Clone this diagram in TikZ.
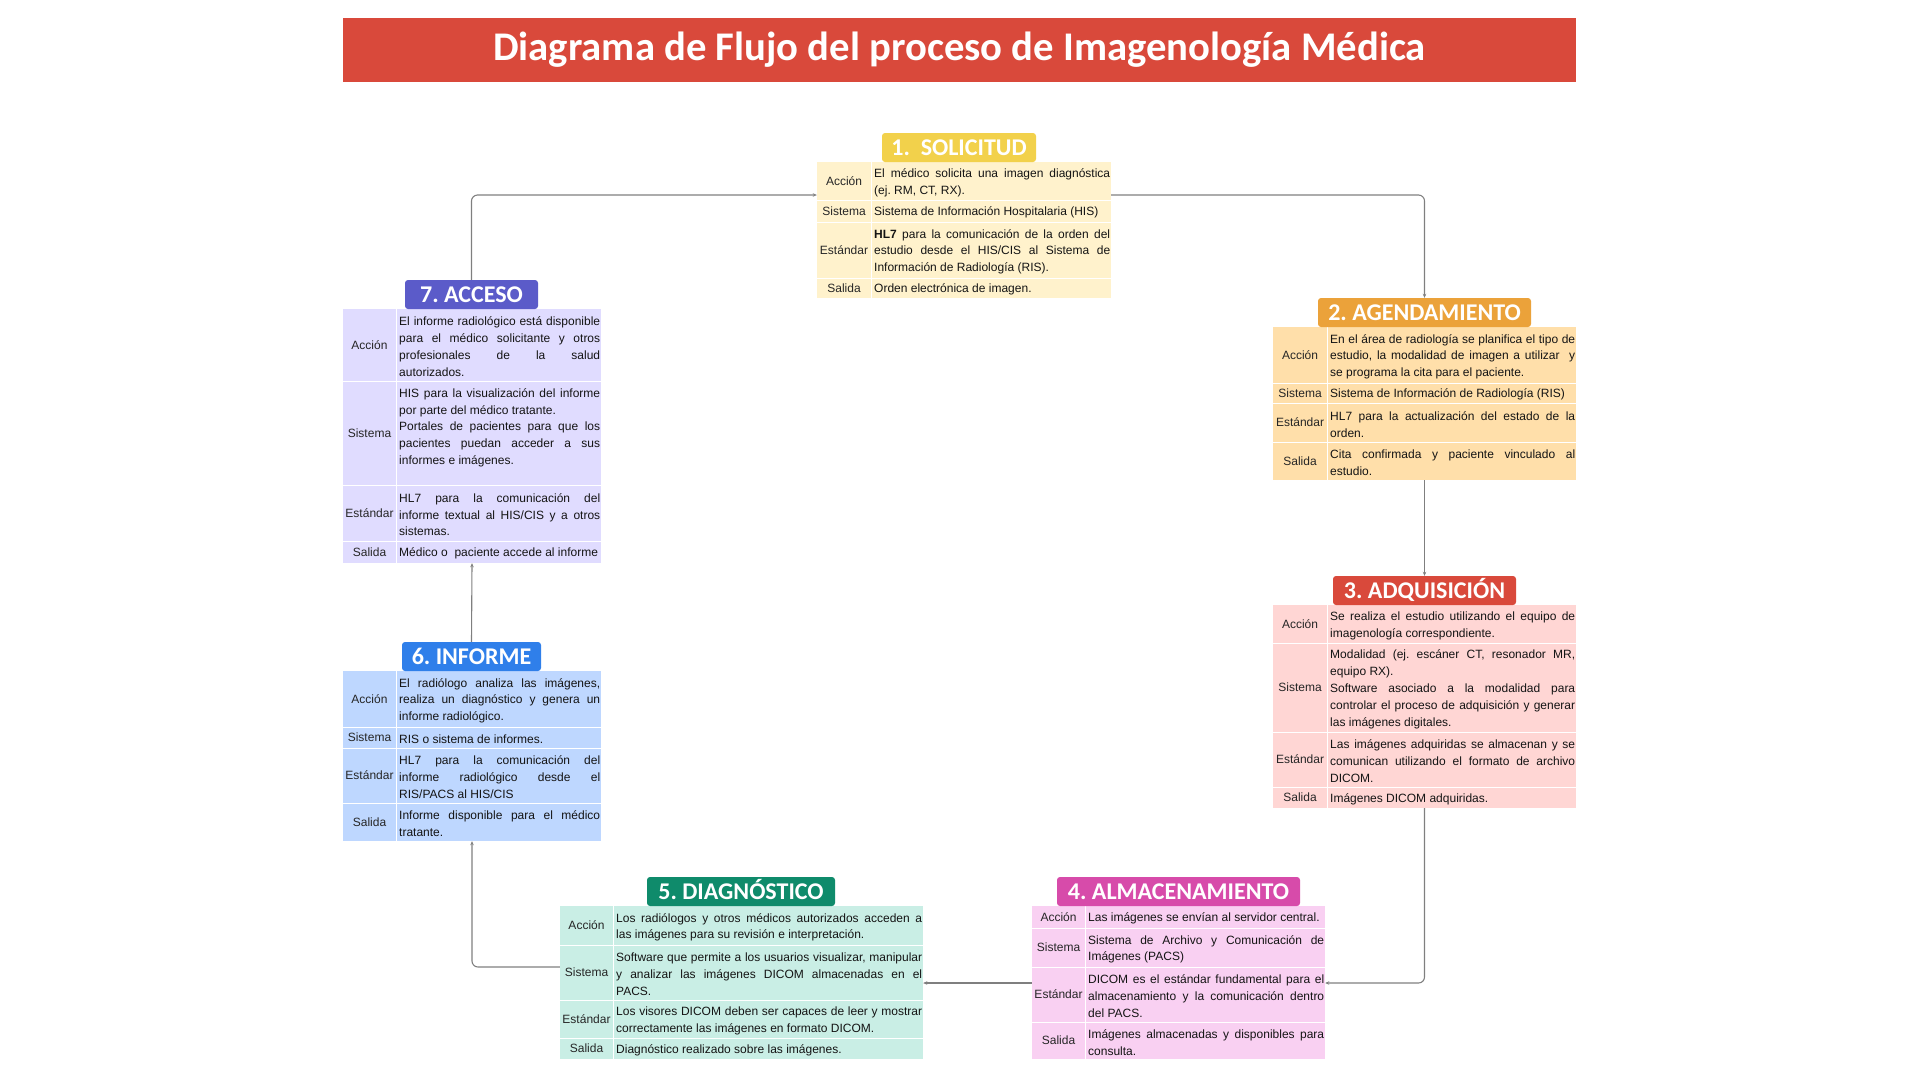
\documentclass[tikz,border=0pt]{standalone}
\usepackage{fontspec}
\setmainfont{Liberation Sans}
\newfontfamily\headfont{Carlito}
\usetikzlibrary{arrows.meta,backgrounds}
\frenchspacing
\definecolor{titlered}{HTML}{D9493B}
\definecolor{linegray}{HTML}{7F7F7F}
\definecolor{c1t}{HTML}{F2D14B}\definecolor{c1b}{HTML}{FFF2CC}
\definecolor{c2t}{HTML}{EBA23A}\definecolor{c2b}{HTML}{FFDFAA}
\definecolor{c3t}{HTML}{D9493B}\definecolor{c3b}{HTML}{FFD6D4}
\definecolor{c4t}{HTML}{D74BAA}\definecolor{c4b}{HTML}{F9D0F2}
\definecolor{c5t}{HTML}{0F8B6B}\definecolor{c5b}{HTML}{C9EEE5}
\definecolor{c6t}{HTML}{2F7FEA}\definecolor{c6b}{HTML}{BED7FF}
\definecolor{c7t}{HTML}{5B5BC9}\definecolor{c7b}{HTML}{E0DCFF}
\tikzset{
  conn/.style={draw=linegray, line width=1.1pt, rounded corners=6pt, -{Stealth[length=4pt,width=3.5pt]}},
  ttl/.style={rounded corners=3pt, text=white, font=\headfont\bfseries\fontsize{24}{28}\selectfont,
    inner sep=0pt, minimum height=29pt, text height=15.5pt, text depth=0pt},
  tbl/.style={inner sep=0pt, draw=none},
  lbl/.style={font=\fontsize{12}{16.8}\selectfont, inner sep=0pt, text=black!85, text height=9pt, text depth=2.5pt},
  cnt/.style={font=\fontsize{12}{16.8}\selectfont, inner sep=0pt, align=justify, anchor=west, text=black!92,
    execute at begin node={\frenchspacing\hyphenpenalty=10000\exhyphenpenalty=10000\tolerance=10000\emergencystretch=1em\parindent=0pt}},
  sep/.style={white, line width=1pt},
}
\newcommand{\mktable}[7]{%
  \pgfmathsetmacro\mytbw{#5-#3}\pgfmathsetmacro\mytbh{#7-#6}%
  \node[tbl, fill=#2, minimum width=\mytbw pt, minimum height=\mytbh pt] (#1) at ({(#3+#5)/2},{(#6+#7)/2}) {};
  \draw[sep] (#4,#6) -- (#4,#7);
}
\newcommand{\mkrow}[8]{%
  \node[lbl] (#1l) at ({(#2+#3)/2},{(#5+#6)/2+0.8}) {#7};
  \pgfmathsetmacro\mytw{#4-#3-4}%
  \node[cnt, text width=\mytw pt] (#1c) at ({#3+3},{(#5+#6)/2+1.8}) {#8};
}
\begin{document}
\begin{tikzpicture}[x=1pt, y=-1pt]
\useasboundingbox (0,0) rectangle (1920,1080);

% main title
\node[fill=titlered, minimum width=1233pt, minimum height=64pt, inner sep=0pt, text=white,
  font=\headfont\bfseries\fontsize{40.7}{48}\selectfont, text height=26.2pt, text depth=5pt]
  (maintitle) at (959.5,50) {Diagrama de Flujo del proceso de Imagenología Médica};

% ---------- 1. SOLICITUD
\mktable{tab1}{c1b}{817}{871}{1111}{162}{298}
\foreach \yy in {200,222,278} {\draw[sep] (817,\yy) -- (1111,\yy);}
\mkrow{r1a}{817}{871}{1111}{162}{200}{Acción}{El médico solicita una imagen diagnóstica\linebreak (ej. RM, CT, RX).}
\mkrow{r1b}{817}{871}{1111}{200}{222}{Sistema}{Sistema de Información Hospitalaria (HIS)}
\mkrow{r1c}{817}{871}{1111}{222}{278}{Estándar}{\textbf{HL7} para la comunicación de la orden del\linebreak estudio desde el HIS/CIS al Sistema de\linebreak Información de Radiología (RIS).}
\mkrow{r1d}{817}{871}{1111}{278}{298}{Salida}{Orden electrónica de imagen.}
\node[ttl, fill=c1t, minimum width=154pt] (t1) at (959,147.5) {1.\ \ SOLICITUD};

% ---------- 2. AGENDAMIENTO
\mktable{tab2}{c2b}{1273}{1327}{1576}{327}{480}
\foreach \yy in {383,403,442} {\draw[sep] (1273,\yy) -- (1576,\yy);}
\mkrow{r2a}{1273}{1327}{1576}{327}{383}{Acción}{En el área de radiología se planifica el tipo de\linebreak estudio, la modalidad de imagen a utilizar~ y\linebreak se programa la cita para el paciente.}
\mkrow{r2b}{1273}{1327}{1576}{383}{403}{Sistema}{Sistema de Información de Radiología (RIS)}
\mkrow{r2c}{1273}{1327}{1576}{403}{442}{Estándar}{HL7 para la actualización del estado de la\linebreak orden.}
\mkrow{r2d}{1273}{1327}{1576}{442}{480}{Salida}{Cita confirmada y paciente vinculado al\linebreak estudio.}
\node[ttl, fill=c2t, minimum width=213pt] (t2) at (1424.5,312.5) {2. AGENDAMIENTO};

% ---------- 3. ADQUISICION
\mktable{tab3}{c3b}{1273}{1327}{1576}{605}{808}
\foreach \yy in {643,732,787} {\draw[sep] (1273,\yy) -- (1576,\yy);}
\mkrow{r3a}{1273}{1327}{1576}{605}{643}{Acción}{Se realiza el estudio utilizando el equipo de\linebreak imagenología correspondiente.}
\mkrow{r3b}{1273}{1327}{1576}{643}{732}{Sistema}{Modalidad (ej. escáner CT, resonador MR,\linebreak equipo RX).\par Software asociado a la modalidad para\linebreak controlar el proceso de adquisición y generar\linebreak las imágenes digitales.}
\mkrow{r3c}{1273}{1327}{1576}{732}{787}{Estándar}{Las imágenes adquiridas se almacenan y se\linebreak comunican utilizando el formato de archivo\linebreak DICOM.}
\mkrow{r3d}{1273}{1327}{1576}{787}{808}{Salida}{Imágenes DICOM adquiridas.}
\node[ttl, fill=c3t, minimum width=183pt] (t3) at (1424.5,590.5) {3. ADQUISICIÓN};

% ---------- 4. ALMACENAMIENTO
\mktable{tab4}{c4b}{1032}{1085}{1325}{906}{1059}
\foreach \yy in {928,967,1022} {\draw[sep] (1032,\yy) -- (1325,\yy);}
\mkrow{r4a}{1032}{1085}{1325}{906}{928}{Acción}{Las imágenes se envían al servidor central.}
\mkrow{r4b}{1032}{1085}{1325}{928}{967}{Sistema}{Sistema de Archivo y Comunicación de\linebreak Imágenes (PACS)}
\mkrow{r4c}{1032}{1085}{1325}{967}{1022}{Estándar}{DICOM es el estándar fundamental para el\linebreak almacenamiento y la comunicación dentro\linebreak del PACS.}
\mkrow{r4d}{1032}{1085}{1325}{1022}{1059}{Salida}{Imágenes almacenadas y disponibles para\linebreak consulta.}
\node[ttl, fill=c4t, minimum width=243pt] (t4) at (1178.5,891.5) {4. ALMACENAMIENTO};

% ---------- 5. DIAGNOSTICO
\mktable{tab5}{c5b}{560}{613}{923}{906}{1059}
\foreach \yy in {945,1000,1038} {\draw[sep] (560,\yy) -- (923,\yy);}
\mkrow{r5a}{560}{613}{923}{906}{945}{Acción}{Los radiólogos y otros médicos autorizados acceden a\linebreak las imágenes para su revisión e interpretación.}
\mkrow{r5b}{560}{613}{923}{945}{1000}{Sistema}{Software que permite a los usuarios visualizar, manipular\linebreak y analizar las imágenes DICOM almacenadas en el\linebreak PACS.}
\mkrow{r5c}{560}{613}{923}{1000}{1038}{Estándar}{Los visores DICOM deben ser capaces de leer y mostrar\linebreak correctamente las imágenes en formato DICOM.}
\mkrow{r5d}{560}{613}{923}{1038}{1059}{Salida}{Diagnóstico realizado sobre las imágenes.}
\node[ttl, fill=c5t, minimum width=188pt] (t5) at (741,891.5) {5. DIAGNÓSTICO};

% ---------- 6. INFORME
\mktable{tab6}{c6b}{343}{396}{601}{671}{841}
\foreach \yy in {727,748,803} {\draw[sep] (343,\yy) -- (601,\yy);}
\mkrow{r6a}{343}{396}{601}{671}{727}{Acción}{El radiólogo analiza las imágenes,\linebreak realiza un diagnóstico y genera un\linebreak informe radiológico.}
\mkrow{r6b}{343}{396}{601}{727}{748}{Sistema}{RIS o sistema de informes.}
\mkrow{r6c}{343}{396}{601}{748}{803}{Estándar}{HL7 para la comunicación del\linebreak informe radiológico desde el\linebreak RIS/PACS al HIS/CIS}
\mkrow{r6d}{343}{396}{601}{803}{841}{Salida}{Informe disponible para el médico\linebreak tratante.}
\node[ttl, fill=c6t, minimum width=139pt] (t6) at (471.5,656.5) {6. INFORME};

% ---------- 7. ACCESO
\mktable{tab7}{c7b}{343}{396}{601}{309}{563}
\foreach \yy in {381,485,541} {\draw[sep] (343,\yy) -- (601,\yy);}
\mkrow{r7a}{343}{396}{601}{309}{381}{Acción}{El informe radiológico está disponible\linebreak para el médico solicitante y otros\linebreak profesionales de la salud\linebreak autorizados.}
\mkrow{r7b}{343}{396}{601}{381}{485}{Sistema}{HIS para la visualización del informe\linebreak por parte del médico tratante.\par Portales de pacientes para que los\linebreak pacientes puedan acceder a sus\linebreak informes e imágenes.\par\mbox{}}
\mkrow{r7c}{343}{396}{601}{485}{541}{Estándar}{HL7 para la comunicación del\linebreak informe textual al HIS/CIS y a otros\linebreak sistemas.}
\mkrow{r7d}{343}{396}{601}{541}{563}{Salida}{Médico o~ paciente accede al informe}
\node[ttl, fill=c7t, minimum width=133pt] (t7) at (471.5,294.5) {7. ACCESO};

% ---------- connectors
\coordinate (ya) at (0,195);
\coordinate (yb) at (0,983);
\coordinate (yc) at (0,967);
\begin{scope}[on background layer]
  \draw[conn] (t7.north) |- (tab1.west |- ya);
  \draw[conn] (tab1.east |- ya) -| (t2.north);
  \draw[conn] (tab2.south) -- (t3.north);
  \draw[conn] (tab3.south) |- (tab4.east |- yb);
  \draw[conn] (tab4.west |- yb) -- (tab5.east |- yb);
  \draw[conn] (tab5.west |- yc) -| (tab6.south);
  \draw[conn] (t6.north) -- (tab7.south);
\end{scope}
\end{tikzpicture}
\end{document}
